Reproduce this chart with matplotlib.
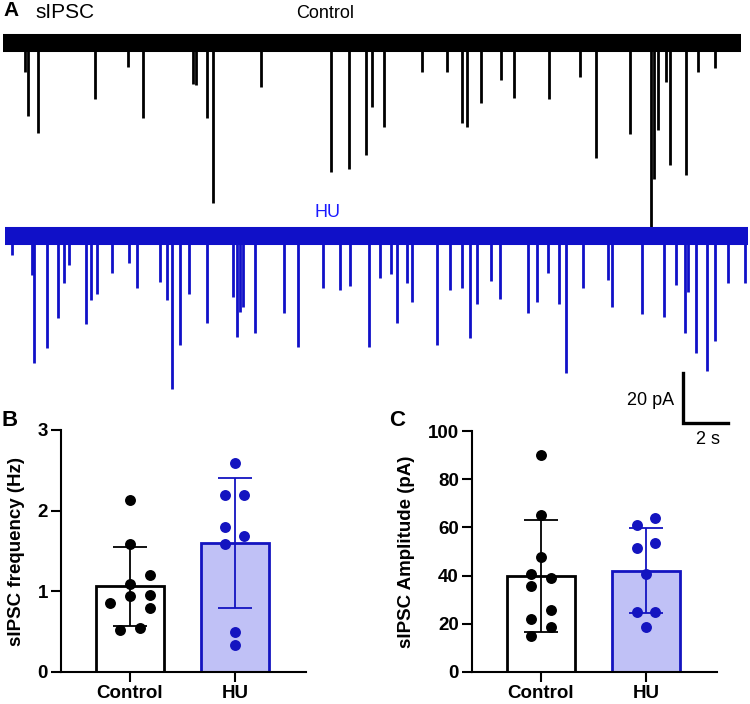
import matplotlib
matplotlib.use("Agg")
import matplotlib.pyplot as plt
import numpy as np

plt.rcParams["font.family"] = ["Liberation Sans", "DejaVu Sans"]

# ── Panel A: sIPSC events (time s, amplitude pA) ─────────────────────────────
ctrl_t = [0.98, 1.11, 1.56, 4.09, 5.56, 6.22, 8.44, 8.58, 9.07, 9.33, 11.47,
          14.58, 15.38, 16.13, 16.40, 16.93, 18.62, 19.73, 20.40, 20.62, 21.24,
          22.13, 22.71, 24.27, 25.64, 26.36, 27.87, 28.80, 28.93, 29.11, 29.47,
          29.64, 30.36, 30.89, 31.64]
ctrl_amp = [11.6, 29.2, 36.0, 22.4, 9.6, 30.0, 16.4, 16.8, 30.0, 64.0, 17.6,
            51.6, 50.4, 44.8, 25.6, 33.6, 11.6, 11.6, 32.0, 33.6, 24.0,
            14.8, 22.0, 22.4, 13.6, 46.0, 36.4, 76.0, 54.4, 34.8, 15.6,
            48.8, 52.8, 11.6, 10.0]
ctrl_span = (0.0, 32.8)

hu_t = [0.40, 1.29, 1.38, 1.96, 2.44, 2.71, 2.93, 3.69, 3.91, 4.18, 4.84,
        5.60, 5.96, 6.98, 7.29, 7.51, 7.87, 8.27, 9.07, 10.22, 10.40, 10.53,
        10.67, 11.20, 12.49, 13.11, 14.22, 14.98, 15.42, 16.27, 16.76, 17.24,
        17.51, 17.96, 18.18, 19.29, 19.87, 20.40, 20.76, 21.07, 21.69, 22.09,
        23.33, 23.73, 24.22, 24.71, 25.02, 25.78, 26.89, 27.07, 28.40, 29.38,
        29.91, 30.31, 30.44, 30.80, 31.29, 31.64, 32.22, 32.98]
hu_amp = [7.6, 15.6, 50.8, 44.8, 32.8, 18.8, 11.6, 35.2, 25.6, 23.2, 14.8,
          10.8, 20.8, 18.4, 25.6, 61.2, 43.6, 23.2, 34.8, 24.4, 40.4, 30.4,
          28.4, 38.8, 30.8, 44.4, 20.8, 21.6, 20.0, 44.4, 16.8, 15.2,
          34.8, 18.8, 26.4, 43.6, 21.6, 20.8, 40.8, 27.2, 18.0, 25.2,
          30.8, 26.4, 14.8, 27.2, 54.8, 20.8, 17.6, 28.4, 31.2, 32.4,
          19.6, 38.8, 22.4, 46.8, 54.0, 42.0, 18.8, 18.8]
hu_span = (0.09, 33.1)

scale_pA = 20
scale_s = 2

# ── Panels B and C: group summaries and individual cells ─────────────────────
groups = ["Control", "HU"]

freq_mean = [1.06, 1.60]
freq_sd = [0.49, 0.81]
freq_ctrl = [2.13, 1.59, 1.20, 1.09, 0.96, 0.94, 0.85, 0.79, 0.55, 0.52]
freq_hu = [2.59, 2.19, 2.19, 1.80, 1.69, 1.59, 0.50, 0.33]

amp_mean = [39.7, 42.1]
amp_sd = [23.2, 17.7]
amp_ctrl = [89.9, 65.0, 47.7, 40.5, 39.0, 35.5, 25.9, 21.9, 18.7, 14.8]
amp_hu = [60.9, 63.9, 51.3, 53.5, 40.5, 24.8, 24.8, 18.7]

# horizontal scatter of the dots (layout only)
freq_ctrl_dx = [0, 0, 0.19, 0, 0.19, 0, -0.19, 0.19, 0.095, -0.095]
freq_hu_dx = [0, -0.095, 0.09, -0.095, 0.09, -0.095, 0, 0]
amp_ctrl_dx = [0, 0, 0, -0.095, 0.095, -0.095, 0.095, -0.095, 0.095, -0.095]
amp_hu_dx = [-0.09, 0.09, -0.09, 0.09, 0, -0.09, 0.09, 0]

BLUE = "#1414c0"
TRACE_BLUE = "#1010c8"
HU_FILL = "#c0c1f6"

W, H = 750, 704
fig = plt.figure(figsize=(W / 100, H / 100), dpi=100)


def fx(px):
    return px / W


def fy(py):
    return 1 - py / H


# ── Traces ───────────────────────────────────────────────────────────────────
PX_S, PX_PA = 22.5, 2.5          # pixels per second / per pA
ax_tr = fig.add_axes([0, fy(460), 1, 460 / H])
ax_tr.set_xlim(-3 / PX_S, 747 / PX_S)
ax_tr.set_ylim((43 - 460) / PX_PA, 43 / PX_PA)
ax_tr.axis("off")
ax_tr.set_zorder(5)

hu_base = -(236 - 43) / PX_PA
for t, a, span, base, col in [(ctrl_t, ctrl_amp, ctrl_span, 0.0, "black"),
                              (hu_t, hu_amp, hu_span, hu_base, TRACE_BLUE)]:
    ax_tr.plot(span, [base, base], color=col, lw=13, solid_capstyle="butt")
    ax_tr.vlines(t, base, base - np.asarray(a), color=col, lw=2.0)

# scale bar
x0 = (683 - 3) / PX_S
y0 = (43 - 423) / PX_PA
ax_tr.plot([x0, x0, x0 + scale_s], [y0 + scale_pA, y0, y0],
           color="black", lw=2.4, solid_joinstyle="miter")
ax_tr.text(x0 - 0.4, y0 + scale_pA / 2 - 1, f"{scale_pA} pA", ha="right",
           va="center", fontsize=13)
ax_tr.text(x0 + scale_s / 2 + 0.1, y0 - 3, f"{scale_s} s", ha="center",
           va="top", fontsize=13)

fig.text(fx(3), fy(11), "A", fontsize=15, fontweight="bold", va="center")
fig.text(fx(35), fy(13), "sIPSC", fontsize=15, va="center")
fig.text(fx(325), fy(13), "Control", fontsize=13, ha="center", va="center")
fig.text(fx(327), fy(213), "HU", fontsize=13, ha="center", va="center",
         color="#1a1aff")


# ── Bar panels ───────────────────────────────────────────────────────────────
def bar_panel(rect, means, sds, ctrl, hu, ctrl_dx, hu_dx, ymax, yticks, ylabel):
    ax = fig.add_axes(rect)
    ax.patch.set_visible(False)
    x = np.arange(len(groups))
    ax.bar(x, means, width=0.64, color=["white", HU_FILL],
           edgecolor=["black", BLUE], linewidth=2, zorder=2)
    for xi, m, s, c in zip(x, means, sds, ["black", BLUE]):
        ax.errorbar(xi, m, yerr=s, fmt="none", ecolor=c, elinewidth=1.3,
                    capsize=12, capthick=1.3, zorder=3)
    ax.scatter(x[0] + np.asarray(ctrl_dx), ctrl, s=62, color="black",
               zorder=4, linewidths=0)
    ax.scatter(x[1] + np.asarray(hu_dx), hu, s=62, color=BLUE,
               zorder=4, linewidths=0)
    ax.set_xlim(-0.657, 1.676)
    ax.set_ylim(0, ymax)
    ax.set_yticks(yticks)
    ax.set_xticks(x)
    ax.set_xticklabels(groups)
    for sp in ["top", "right"]:
        ax.spines[sp].set_visible(False)
    for sp in ["left", "bottom"]:
        ax.spines[sp].set_linewidth(1.5)
    ax.tick_params(width=1.5, length=7.5, labelsize=13.5, pad=2)
    for lab in ax.get_xticklabels() + ax.get_yticklabels():
        lab.set_fontweight("bold")
    ax.set_ylabel(ylabel, fontsize=13.5, fontweight="bold", labelpad=9)
    return ax


bar_panel([fx(61), fy(672), fx(306) - fx(61), (672 - 430) / H],
          freq_mean, freq_sd, freq_ctrl, freq_hu, freq_ctrl_dx, freq_hu_dx,
          3, [0, 1, 2, 3], "sIPSC frequency (Hz)")
bar_panel([fx(472), fy(672), fx(717) - fx(472), (672 - 431) / H],
          amp_mean, amp_sd, amp_ctrl, amp_hu, amp_ctrl_dx, amp_hu_dx,
          100, [0, 20, 40, 60, 80, 100], "sIPSC Amplitude (pA)")

fig.text(fx(10), fy(420), "B", fontsize=16, fontweight="bold",
         ha="center", va="center")
fig.text(fx(397), fy(420), "C", fontsize=16, fontweight="bold",
         ha="center", va="center")

fig.savefig("out.png", dpi=100)
